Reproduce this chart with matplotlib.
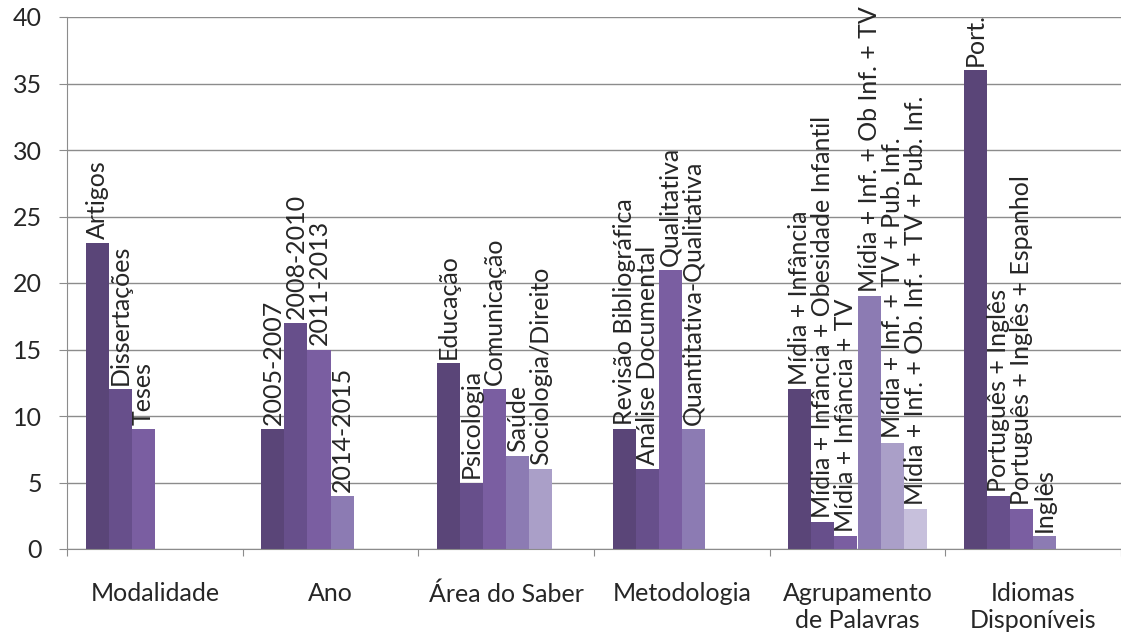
import matplotlib
matplotlib.use("Agg")
import matplotlib.pyplot as plt

FONT = "Lato"
INK = "#262626"
GRID = "#8c8c8c"
SERIES = ["#5a4578", "#674f8b", "#7a5ea1", "#8c7bb3", "#aa9fc8", "#c7c0dc"]

GROUPS = ["Modalidade", "Ano", "Área do Saber", "Metodologia",
          "Agrupamento\nde Palavras", "Idiomas\nDisponíveis"]

modalidade_labels = ["Artigos", "Dissertações", "Teses"]
modalidade_vals = [23, 12, 9]
ano_labels = ["2005-2007", "2008-2010", "2011-2013", "2014-2015"]
ano_vals = [9, 17, 15, 4]
area_labels = ["Educação", "Psicologia", "Comunicação", "Saúde", "Sociologia/Direito"]
area_vals = [14, 5, 12, 7, 6]
metod_labels = ["Revisão Bibliográfica", "Análise Documental", "Qualitativa",
                "Quantitativa-Qualitativa"]
metod_vals = [9, 6, 21, 9]
palavras_labels = ["Mídia + Infância", "Mídia + Infância + Obesidade Infantil",
                   "Mídia + Infância + TV", "Mídia + Inf. + Ob Inf. + TV",
                   "Mídia + Inf. + TV + Pub. Inf.", "Mídia + Inf. + Ob. Inf. + TV + Pub. Inf."]
palavras_vals = [12, 2, 1, 19, 8, 3]
idiomas_labels = ["Port.", "Português + Inglês", "Português + Inglês + Espanhol", "Inglês"]
idiomas_vals = [36, 4, 3, 1]

BAR_LABELS = [modalidade_labels, ano_labels, area_labels, metod_labels,
              palavras_labels, idiomas_labels]
BAR_VALUES = [modalidade_vals, ano_vals, area_vals, metod_vals, palavras_vals, idiomas_vals]

W = 0.131
OFF = (1 - 6 * W) / 2

fig = plt.figure(figsize=(11.21, 6.39), dpi=100)
ax = fig.add_axes([67 / 1121, 90 / 639, 1 - 67 / 1121, (549 - 17) / 639])

for gi, (labs, vals) in enumerate(zip(BAR_LABELS, BAR_VALUES)):
    for j, (lab, v) in enumerate(zip(labs, vals)):
        x = gi + OFF + j * W
        ax.bar(x, v, width=W, align="edge", color=SERIES[j], linewidth=0, zorder=2)
        ax.annotate(lab, (x + W / 2, v), xytext=(0, 3), textcoords="offset points",
                    rotation=90, ha="center", va="bottom", fontsize=18, family=FONT,
                    color=INK, annotation_clip=False, zorder=3)

ax.set_ylim(0, 40)
ax.set_xlim(0, (1121 - 67) / 176.8)
ax.set_yticks(range(0, 41, 5))
ax.yaxis.grid(True, color=GRID, lw=1)
ax.set_axisbelow(True)
for s in ["top", "right"]:
    ax.spines[s].set_visible(False)
for s in ["left", "bottom"]:
    ax.spines[s].set_color(GRID)
ax.tick_params(axis="y", length=6, color=GRID, pad=12, labelsize=18, labelcolor=INK)
for t in ax.get_yticklabels():
    t.set_family(FONT)

ax.set_xticks(range(0, 7))
ax.set_xticklabels([])
ax.tick_params(axis="x", which="major", length=5, color=GRID)
ax.set_xticks([i + 0.5 for i in range(len(GROUPS))], minor=True)
ax.set_xticklabels(GROUPS, minor=True, fontsize=18, family=FONT, color=INK,
                   linespacing=1.2)
ax.tick_params(axis="x", which="minor", length=0, pad=24)

fig.savefig("out.png", dpi=100, facecolor="white")
